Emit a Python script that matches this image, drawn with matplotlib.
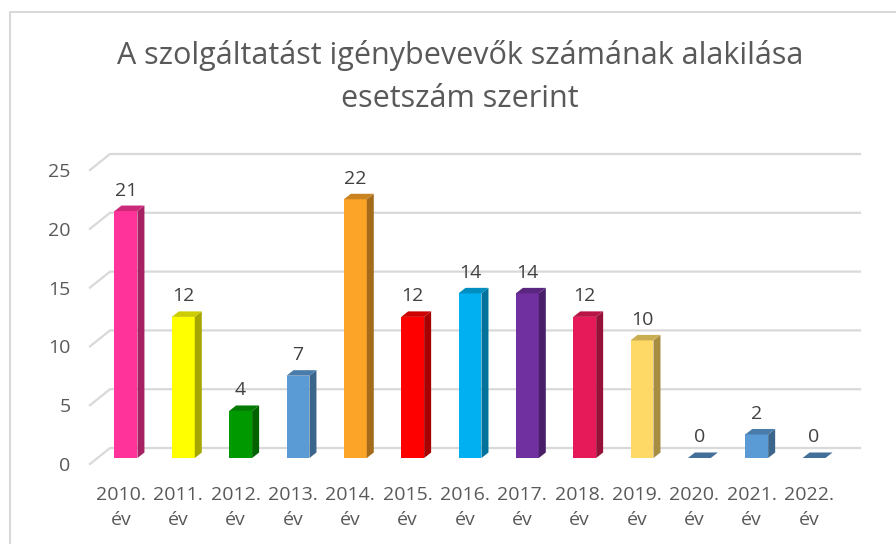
import matplotlib
matplotlib.use('Agg')
import matplotlib.pyplot as plt
import numpy as np
import matplotlib.colors as mcolors
import matplotlib.transforms as mtransforms
from matplotlib.patches import Polygon
from matplotlib.lines import Line2D

plt.rcParams['font.family'] = ['Open Sans', 'DejaVu Sans']

# ---- data ----
years = ['2010.', '2011.', '2012.', '2013.', '2014.', '2015.', '2016.',
         '2017.', '2018.', '2019.', '2020.', '2021.', '2022.']
values = [21, 12, 4, 7, 22, 12, 14, 14, 12, 10, 0, 2, 0]
bar_colors = ['#FF3399', '#FFFF00', '#009900', '#5B9BD5', '#FBA428', '#FF0000',
              '#00B0F0', '#7030A0', '#E61A58', '#FFD966', '#5B9BD5', '#5B9BD5',
              '#5B9BD5']
y_ticks = [0, 5, 10, 15, 20, 25]
title = "A szolgáltatást igénybevevők számának alakilása\nesetszám szerint"

# ---- figure ----
W, H = 896, 544
fig = plt.figure(figsize=(W / 100, H / 100), dpi=100)
ax = fig.add_axes([90 / W, (H - 464) / H, 750 / W, 294 / H])
ax.set_xlim(-0.54, 12.54)
ax.set_ylim(0, 25)
ax.patch.set_visible(False)
for s in ax.spines.values():
    s.set_visible(False)

ax.set_xticks(range(len(years)))
ax.set_xticklabels([f"{y}\név" for y in years], linespacing=1.45)
ax.set_yticks(y_ticks)
ax.set_yticklabels([str(t) for t in y_ticks])
ax.tick_params(axis='both', length=0, labelsize=14, labelcolor='#595959')
ax.tick_params(axis='x', pad=16)
ax.tick_params(axis='y', pad=14)

ident = mtransforms.IdentityTransform()
grid_c = '#D9D9D9'
BACK = np.array([20.0, 16.0])   # back wall offset (px)
BOFF = np.array([5.0, 6.0])     # bar front offset (px)
DEPTH = np.array([7.0, 5.5])    # bar depth (px)
bw = 0.4


def D(x, v):
    return ax.transData.transform((x, v))


xl, xr = ax.get_xlim()
for v in y_ticks:
    p0 = D(xl, v)
    p1 = p0 + BACK
    p2 = D(xr, v) + BACK
    ln = Line2D([p0[0], p1[0], p2[0]], [p0[1], p1[1], p2[1]],
                transform=ident, color=grid_c, lw=1.6, zorder=1)
    ax.add_artist(ln)
    ln.set_clip_on(False)


def shade(c, f):
    r, g, b = mcolors.to_rgb(c)
    return (r * f, g * f, b * f)


for i, (v, c) in enumerate(zip(values, bar_colors)):
    L = D(i - bw / 2, 0) + BOFF
    R = D(i + bw / 2, 0) + BOFF
    T = D(i, v)[1] + BOFF[1]
    by = L[1]
    Lx, Rx = L[0], R[0]
    dx, dy = DEPTH
    polys = []
    if v > 0:
        polys.append(Polygon([(Lx, by), (Rx, by), (Rx, T), (Lx, T)], closed=True,
                             transform=ident, facecolor=c, edgecolor='none', zorder=3))
        polys.append(Polygon([(Rx, by), (Rx + dx, by + dy), (Rx + dx, T + dy), (Rx, T)],
                             closed=True, transform=ident, facecolor=shade(c, 0.65),
                             edgecolor='none', zorder=3))
    polys.append(Polygon([(Lx, T), (Rx, T), (Rx + dx, T + dy), (Lx + dx, T + dy)],
                         closed=True, transform=ident,
                         facecolor=shade(c, 0.8 if v > 0 else 0.72),
                         edgecolor='none', zorder=3))
    for p in polys:
        ax.add_artist(p)
        p.set_clip_on(False)
    ax.annotate(str(v), xy=(i, v), xycoords='data',
                xytext=(BOFF[0], BOFF[1] + dy + 10), textcoords='offset pixels',
                ha='center', va='baseline', fontsize=14, color='#404040', zorder=4,
                annotation_clip=False)

# title
fig.text(460 / W, (H - 77) / H, title, ha='center', va='center',
         fontsize=22, color='#595959', linespacing=1.6)

# chart border
fig.add_artist(Line2D([10 / W, 10 / W, 1.0], [0.0, (H - 12) / H, (H - 12) / H],
                      transform=fig.transFigure, color=grid_c, lw=1.5))

fig.savefig('out.png', dpi=100)
